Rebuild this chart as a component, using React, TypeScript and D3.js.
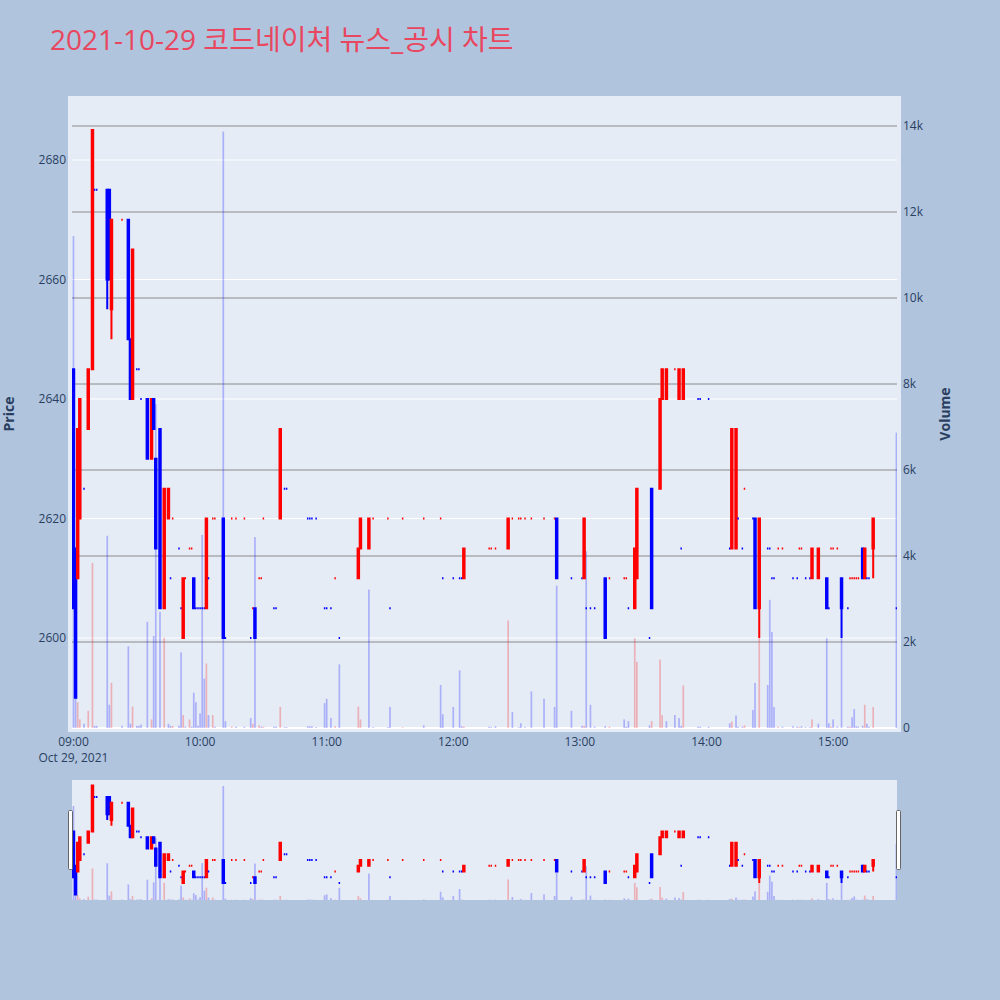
import React from "react";
import * as d3 from "d3";

const TITLE = "2021-10-29 코드네이처 뉴스_공시 차트";
const DATE_LABEL = "Oct 29, 2021";
const TIME_TICKS = ["09:00", "10:00", "11:00", "12:00", "13:00", "14:00", "15:00"];
const PRICE_TICKS = [2600, 2620, 2640, 2660, 2680];
const VOLUME_TICKS = [0, 2000, 4000, 6000, 8000, 10000, 12000, 14000];
const VOLUME_TICK_LABELS = ["0", "2k", "4k", "6k", "8k", "10k", "12k", "14k"];

// time, open, high, low, close, volume
const BARS: [string, number, number, number, number, number][] = [
  ["09:00", 2645, 2645, 2605, 2605, 11440],
  ["09:01", 2615, 2615, 2590, 2590, 2000],
  ["09:02", 2610, 2635, 2610, 2635, 600],
  ["09:03", 2620, 2640, 2620, 2640, 200],
  ["09:05", 2625, 2625, 2625, 2625, 100],
  ["09:07", 2635, 2645, 2635, 2645, 400],
  ["09:09", 2645, 2685, 2645, 2685, 3840],
  ["09:10", 2675, 2675, 2675, 2675, 50],
  ["09:11", 2675, 2675, 2675, 2675, 50],
  ["09:16", 2675, 2675, 2655, 2660, 4470],
  ["09:17", 2675, 2675, 2660, 2660, 540],
  ["09:18", 2655, 2670, 2650, 2670, 1050],
  ["09:23", 2670, 2670, 2670, 2670, 50],
  ["09:26", 2670, 2670, 2650, 2650, 1900],
  ["09:27", 2650, 2650, 2640, 2640, 100],
  ["09:28", 2640, 2665, 2640, 2665, 500],
  ["09:30", 2645, 2645, 2645, 2645, 50],
  ["09:31", 2645, 2645, 2645, 2645, 50],
  ["09:32", 2640, 2640, 2640, 2640, 80],
  ["09:35", 2640, 2640, 2630, 2630, 2470],
  ["09:37", 2630, 2640, 2630, 2640, 200],
  ["09:38", 2640, 2640, 2635, 2635, 2140],
  ["09:39", 2630, 2630, 2615, 2615, 7530],
  ["09:41", 2635, 2635, 2605, 2605, 2700],
  ["09:43", 2605, 2625, 2605, 2625, 2100],
  ["09:45", 2620, 2625, 2620, 2625, 100],
  ["09:46", 2610, 2610, 2610, 2610, 50],
  ["09:47", 2620, 2620, 2620, 2620, 50],
  ["09:50", 2615, 2615, 2615, 2615, 50],
  ["09:51", 2605, 2605, 2605, 2605, 1760],
  ["09:52", 2600, 2610, 2600, 2610, 300],
  ["09:53", 2610, 2610, 2610, 2610, 30],
  ["09:55", 2615, 2615, 2615, 2615, 200],
  ["09:56", 2615, 2615, 2615, 2615, 30],
  ["09:57", 2610, 2610, 2605, 2605, 820],
  ["09:58", 2605, 2605, 2605, 2605, 600],
  ["09:59", 2605, 2605, 2605, 2605, 50],
  ["10:00", 2605, 2605, 2605, 2605, 340],
  ["10:01", 2605, 2605, 2605, 2605, 4490],
  ["10:02", 2605, 2605, 2605, 2605, 1150],
  ["10:03", 2605, 2620, 2605, 2620, 1500],
  ["10:04", 2610, 2610, 2610, 2610, 300],
  ["10:06", 2620, 2620, 2620, 2620, 300],
  ["10:07", 2620, 2620, 2620, 2620, 30],
  ["10:11", 2620, 2620, 2600, 2600, 13870],
  ["10:12", 2600, 2600, 2600, 2600, 160],
  ["10:15", 2620, 2620, 2620, 2620, 30],
  ["10:17", 2620, 2620, 2620, 2620, 30],
  ["10:21", 2620, 2620, 2620, 2620, 30],
  ["10:24", 2600, 2600, 2600, 2600, 230],
  ["10:25", 2605, 2605, 2605, 2605, 100],
  ["10:26", 2605, 2605, 2600, 2600, 4440],
  ["10:28", 2610, 2610, 2610, 2610, 60],
  ["10:29", 2610, 2610, 2610, 2610, 30],
  ["10:30", 2620, 2620, 2620, 2620, 30],
  ["10:35", 2605, 2605, 2605, 2605, 30],
  ["10:36", 2605, 2605, 2605, 2605, 30],
  ["10:38", 2620, 2635, 2620, 2635, 490],
  ["10:40", 2625, 2625, 2625, 2625, 20],
  ["10:41", 2625, 2625, 2625, 2625, 20],
  ["10:51", 2620, 2620, 2620, 2620, 40],
  ["10:52", 2620, 2620, 2620, 2620, 40],
  ["10:53", 2620, 2620, 2620, 2620, 40],
  ["10:55", 2620, 2620, 2620, 2620, 20],
  ["10:59", 2605, 2605, 2605, 2605, 580],
  ["11:00", 2605, 2605, 2605, 2605, 680],
  ["11:02", 2605, 2605, 2605, 2605, 230],
  ["11:04", 2610, 2610, 2610, 2610, 40],
  ["11:06", 2600, 2600, 2600, 2600, 1480],
  ["11:15", 2610, 2615, 2610, 2615, 500],
  ["11:16", 2615, 2620, 2615, 2620, 200],
  ["11:20", 2615, 2620, 2615, 2620, 3220],
  ["11:22", 2620, 2620, 2620, 2620, 20],
  ["11:29", 2620, 2620, 2620, 2620, 20],
  ["11:30", 2605, 2605, 2605, 2605, 490],
  ["11:36", 2620, 2620, 2620, 2620, 20],
  ["11:46", 2620, 2620, 2620, 2620, 60],
  ["11:54", 2620, 2620, 2620, 2620, 1000],
  ["11:55", 2610, 2610, 2610, 2610, 320],
  ["12:00", 2610, 2610, 2610, 2610, 490],
  ["12:03", 2610, 2610, 2610, 2610, 1340],
  ["12:04", 2610, 2610, 2610, 2610, 40],
  ["12:05", 2610, 2615, 2610, 2615, 30],
  ["12:17", 2615, 2615, 2615, 2615, 30],
  ["12:18", 2615, 2615, 2615, 2615, 20],
  ["12:20", 2615, 2615, 2615, 2615, 40],
  ["12:26", 2615, 2620, 2615, 2620, 2500],
  ["12:28", 2620, 2620, 2620, 2620, 370],
  ["12:31", 2620, 2620, 2620, 2620, 20],
  ["12:32", 2620, 2620, 2620, 2620, 110],
  ["12:34", 2620, 2620, 2620, 2620, 20],
  ["12:37", 2620, 2620, 2620, 2620, 850],
  ["12:43", 2620, 2620, 2620, 2620, 680],
  ["12:48", 2620, 2620, 2620, 2620, 490],
  ["12:49", 2620, 2620, 2610, 2610, 3310],
  ["12:56", 2610, 2610, 2610, 2610, 400],
  ["13:01", 2610, 2610, 2610, 2610, 50],
  ["13:02", 2610, 2620, 2610, 2620, 50],
  ["13:03", 2605, 2605, 2605, 2605, 4110],
  ["13:05", 2605, 2605, 2605, 2605, 540],
  ["13:07", 2605, 2605, 2605, 2605, 30],
  ["13:12", 2610, 2610, 2600, 2600, 40],
  ["13:14", 2610, 2610, 2610, 2610, 30],
  ["13:21", 2610, 2610, 2610, 2610, 200],
  ["13:22", 2610, 2610, 2610, 2610, 30],
  ["13:23", 2605, 2605, 2605, 2605, 160],
  ["13:26", 2605, 2615, 2605, 2615, 2090],
  ["13:27", 2610, 2625, 2610, 2625, 1540],
  ["13:33", 2600, 2600, 2600, 2600, 60],
  ["13:34", 2625, 2625, 2605, 2605, 160],
  ["13:38", 2625, 2640, 2625, 2640, 1590],
  ["13:39", 2640, 2645, 2640, 2645, 300],
  ["13:41", 2640, 2645, 2640, 2645, 160],
  ["13:45", 2645, 2645, 2645, 2645, 300],
  ["13:47", 2640, 2645, 2640, 2645, 230],
  ["13:48", 2615, 2615, 2615, 2615, 50],
  ["13:49", 2640, 2645, 2640, 2645, 990],
  ["13:56", 2640, 2640, 2640, 2640, 30],
  ["13:57", 2640, 2640, 2640, 2640, 30],
  ["14:01", 2640, 2640, 2640, 2640, 30],
  ["14:11", 2615, 2615, 2615, 2615, 110],
  ["14:12", 2615, 2635, 2615, 2635, 150],
  ["14:14", 2615, 2635, 2615, 2635, 290],
  ["14:15", 2620, 2620, 2620, 2620, 30],
  ["14:17", 2615, 2615, 2615, 2615, 30],
  ["14:18", 2625, 2625, 2625, 2625, 60],
  ["14:22", 2620, 2620, 2620, 2620, 420],
  ["14:23", 2620, 2620, 2605, 2605, 1050],
  ["14:25", 2605, 2620, 2600, 2620, 2090],
  ["14:29", 2615, 2615, 2615, 2615, 1000],
  ["14:30", 2615, 2615, 2615, 2615, 2980],
  ["14:31", 2610, 2610, 2610, 2610, 2230],
  ["14:32", 2610, 2610, 2610, 2610, 490],
  ["14:34", 2615, 2615, 2615, 2615, 30],
  ["14:36", 2615, 2615, 2615, 2615, 30],
  ["14:41", 2610, 2610, 2610, 2610, 40],
  ["14:43", 2610, 2610, 2610, 2610, 30],
  ["14:44", 2615, 2615, 2615, 2615, 20],
  ["14:45", 2615, 2615, 2615, 2615, 40],
  ["14:47", 2610, 2610, 2610, 2610, 20],
  ["14:49", 2610, 2610, 2610, 2610, 20],
  ["14:50", 2610, 2615, 2610, 2615, 200],
  ["14:53", 2610, 2615, 2610, 2615, 100],
  ["14:57", 2610, 2610, 2605, 2605, 2090],
  ["14:58", 2605, 2605, 2605, 2605, 110],
  ["14:59", 2615, 2615, 2615, 2615, 30],
  ["15:00", 2615, 2615, 2615, 2615, 200],
  ["15:02", 2615, 2615, 2615, 2615, 30],
  ["15:04", 2610, 2610, 2600, 2605, 2090],
  ["15:07", 2605, 2605, 2605, 2605, 30],
  ["15:08", 2610, 2610, 2610, 2610, 30],
  ["15:09", 2610, 2610, 2610, 2610, 250],
  ["15:10", 2610, 2610, 2610, 2610, 440],
  ["15:11", 2610, 2610, 2610, 2610, 40],
  ["15:12", 2610, 2610, 2610, 2610, 30],
  ["15:14", 2615, 2615, 2610, 2610, 50],
  ["15:15", 2610, 2615, 2610, 2615, 540],
  ["15:16", 2610, 2610, 2610, 2610, 100],
  ["15:17", 2610, 2610, 2610, 2610, 30],
  ["15:19", 2615, 2620, 2610, 2620, 490],
  ["15:30", 2605, 2605, 2605, 2605, 6870],
];

const UP = "#ff0000";
const DOWN = "#0000ff";
const FONT = "'Open Sans', 'Noto Sans CJK KR', sans-serif";
const TICK_COLOR = "#2a3f5f";

const toDate = (t: string) => {
  const [h, m] = t.split(":").map(Number);
  return new Date(2021, 9, 29, h, m, 0);
};

type Bar = { t: Date; o: number; h: number; l: number; c: number; v: number; up: boolean; volUp: boolean };

function buildBars(): Bar[] {
  let prevClose: number | null = null;
  let inc = true;
  return BARS.map(([ts, o, h, l, c, v]) => {
    if (c === o) {
      if (prevClose !== null && c !== prevClose) inc = c > prevClose;
    } else inc = c > o;
    const volUp = prevClose !== null && c > prevClose;
    prevClose = c;
    return { t: toDate(ts), o, h, l, c, v, up: inc, volUp };
  });
}

export default function App() {
  const W = 1000, H = 1000;
  const L = 72, R = 897, T = 100, B = 728;
  const sT = 780, sB = 900;
  const bars = buildBars();

  const x = d3
    .scaleTime()
    .domain([new Date(2021, 9, 29, 8, 59, 18), new Date(2021, 9, 29, 15, 30, 17)])
    .range([L, R]);
  const ppm = x(toDate("09:01")) - x(toDate("09:00"));
  const boxHalf = ppm * 0.35;
  const barHalf = ppm * 0.4;

  const yP = d3.scaleLinear().domain([2584.94, 2690.04]).range([B, T]);
  const yV = d3.scaleLinear().domain([0, 14605]).range([B, T]);
  const sP = d3.scaleLinear().domain([2585.25, 2689.75]).range([sB, sT]);
  const sV = d3.scaleLinear().domain([0, 14605]).range([sB, sT]);

  const candlePath = (d: Bar, y: d3.ScaleLinear<number, number>) => {
    const xc = x(d.t);
    const x0 = xc - boxHalf, x1 = xc + boxHalf;
    const yo = y(d.o), yc = y(d.c);
    const q1 = Math.max(yo, yc), q3 = Math.min(yo, yc);
    return `M${x0},${q1}V${q3}H${x1}V${q1}ZM${xc},${q1}V${y(d.l)}M${xc},${q3}V${y(d.h)}`;
  };

  const renderLayer = (
    y: d3.ScaleLinear<number, number>,
    yv: d3.ScaleLinear<number, number>,
    key: string
  ) => (
    <g key={key}>
      <g>
        {bars.map((d, i) => (
          <rect
            key={"v" + i}
            x={x(d.t) - barHalf}
            y={yv(d.v)}
            width={barHalf * 2}
            height={yv(0) - yv(d.v)}
            fill={d.volUp ? UP : DOWN}
            fillOpacity={0.25}
          />
        ))}
      </g>
      <g>
        {bars.map((d, i) => (
          <path
            key={"c" + i}
            d={candlePath(d, y)}
            fill={d.up ? UP : DOWN}
            stroke={d.up ? UP : DOWN}
            strokeWidth={2}
          />
        ))}
      </g>
    </g>
  );

  return (
    <svg width={W} height={H} style={{ display: "block", position: "absolute", left: 0, top: 0 }} fontFamily={FONT}>
      <rect x={0} y={0} width={W} height={H} fill="#b0c4de" />
      <text x={50} y={50} fontSize={28} fill="#e8475f" fontFamily={FONT}>
        {TITLE}
      </text>

      {/* main plot */}
      <rect x={L - 4} y={T - 4} width={R - L + 8} height={B - T + 8} fill="#e5ecf6" />
      <defs>
        <clipPath id="mainclip">
          <rect x={L} y={T} width={R - L} height={B - T} />
        </clipPath>
        <clipPath id="sliderclip">
          <rect x={L} y={sT} width={R - L} height={sB - sT} />
        </clipPath>
      </defs>
      {PRICE_TICKS.map((p) => (
        <line key={"pg" + p} x1={L} x2={R} y1={yP(p)} y2={yP(p)} stroke="#ffffff" strokeWidth={1} />
      ))}
      {VOLUME_TICKS.filter((v) => v > 0).map((v) => (
        <line key={"vg" + v} x1={L} x2={R} y1={yV(v)} y2={yV(v)} stroke="#8a8a8a" strokeWidth={1} />
      ))}
      <line x1={L} x2={R} y1={yV(0)} y2={yV(0)} stroke="#ffffff" strokeWidth={2} />
      <g clipPath="url(#mainclip)">{renderLayer(yP, yV, "main")}</g>

      {/* axes labels */}
      {PRICE_TICKS.map((p) => (
        <text key={"pt" + p} x={66} y={yP(p)} dy="0.35em" textAnchor="end" fontSize={12} fill={TICK_COLOR}>
          {p}
        </text>
      ))}
      {VOLUME_TICKS.map((v, i) => (
        <text key={"vt" + v} x={903} y={yV(v)} dy="0.35em" textAnchor="start" fontSize={12} fill={TICK_COLOR}>
          {VOLUME_TICK_LABELS[i]}
        </text>
      ))}
      {TIME_TICKS.map((t, i) => (
        <g key={"xt" + t}>
          <text x={x(toDate(t))} y={745.5} textAnchor="middle" fontSize={12} fill={TICK_COLOR}>
            {t}
          </text>
          {i === 0 && (
            <text x={x(toDate(t))} y={761.5} textAnchor="middle" fontSize={12} fill={TICK_COLOR}>
              {DATE_LABEL}
            </text>
          )}
        </g>
      ))}
      <text
        transform={`translate(14,${(T + B) / 2}) rotate(-90)`}
        textAnchor="middle"
        fontSize={14}
        fontWeight="bold"
        fill={TICK_COLOR}
      >
        Price
      </text>
      <text
        transform={`translate(950,${(T + B) / 2}) rotate(-90)`}
        textAnchor="middle"
        fontSize={14}
        fontWeight="bold"
        fill={TICK_COLOR}
      >
        Volume
      </text>

      {/* range slider */}
      <rect x={L} y={sT} width={R - L} height={sB - sT} fill="#e5ecf6" />
      <g clipPath="url(#sliderclip)">{renderLayer(sP, sV, "slider")}</g>
      <rect x={L - 3.5} y={sT + 30.5} width={4} height={59} rx={1} fill="#ffffff" stroke="#666666" strokeWidth={1} />
      <rect x={R - 0.5} y={sT + 30.5} width={4} height={59} rx={1} fill="#ffffff" stroke="#666666" strokeWidth={1} />
    </svg>
  );
}
